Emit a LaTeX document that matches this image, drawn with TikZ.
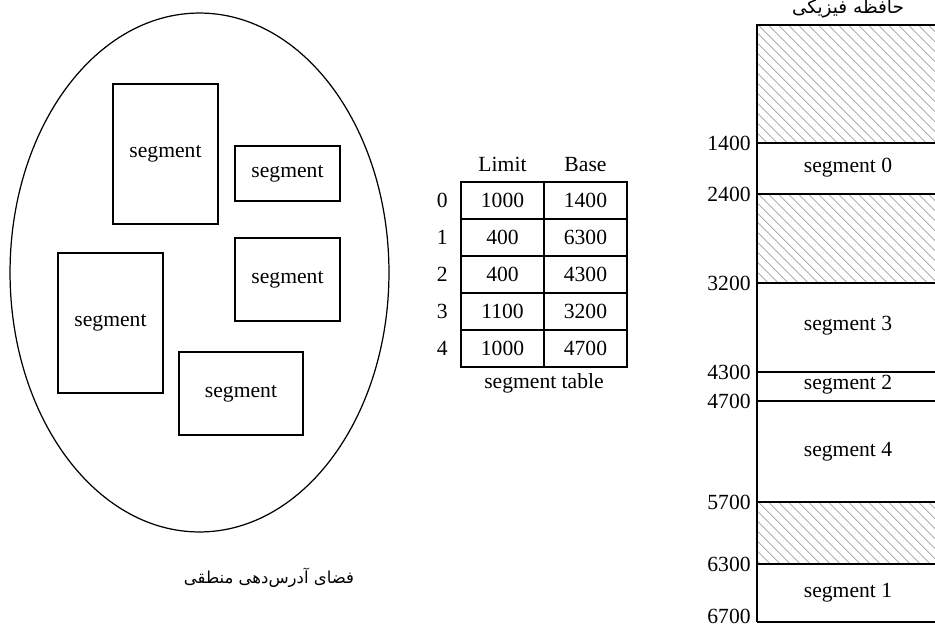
\documentclass[tikz,border=0pt]{standalone}
\usepackage{fontspec}
\setmainfont{Liberation Serif}
\newfontfamily\farsifont[Script=Arabic]{DejaVu Sans}
\TeXXeTstate=1
\usetikzlibrary{shapes.geometric,positioning,patterns.meta}

\begin{document}
\begin{tikzpicture}[
    x=0.02cm, y=-0.02cm,
    font=\fontsize{12.3}{14}\selectfont,
    segbox/.style={rectangle, draw, line width=0.9pt},
    cell/.style={rectangle, draw, line width=0.8pt, minimum width=1.66cm, minimum height=0.74cm, inner sep=0pt, outer sep=0pt},
    idx/.style={inner sep=0pt},
    free/.style={pattern={Lines[angle=-45,distance=4pt,line width=0.4pt]}, pattern color=black!45},
    boundary/.style={line width=1.2pt},
    addr/.style={anchor=east, inner sep=0pt},
    farsi/.style={font=\fontsize{10.5}{13}\farsifont}
]
\clip (0,0) rectangle (935,628);

% Logical address space
\node[draw, ellipse, line width=0.7pt, minimum width=7.58cm, minimum height=10.38cm] (space) at (199.5,272.5) {};
\node[segbox, minimum width=2.1cm, minimum height=2.8cm] (seg1) at (165.5,154) {segment};
\node[segbox, minimum width=2.1cm, minimum height=1.1cm] (seg2) at (287.5,173.5) {segment};
\node[segbox, minimum width=2.1cm, minimum height=1.66cm] (seg3) at (287.5,279.5) {segment};
\node[segbox, minimum width=2.1cm, minimum height=2.8cm] (seg4) at (110.5,323) {segment};
\node[segbox, minimum width=2.48cm, minimum height=1.66cm] (seg5) at (241,393.5) {segment};
\node[farsi, font=\fontsize{9.4}{12}\farsifont] (logspace) at (269,578) {\beginR فضای آدرس‌دهی منطقی\endR};

% Segment table
\node[cell] (lim0) at (502.5,200.5) {1000};
\node[cell, right=0pt of lim0] (base0) {1400};
\node[cell, below=0pt of lim0] (lim1) {400};
\node[cell, right=0pt of lim1] (base1) {6300};
\node[cell, below=0pt of lim1] (lim2) {400};
\node[cell, right=0pt of lim2] (base2) {4300};
\node[cell, below=0pt of lim2] (lim3) {1100};
\node[cell, right=0pt of lim3] (base3) {3200};
\node[cell, below=0pt of lim3] (lim4) {1000};
\node[cell, right=0pt of lim4] (base4) {4700};
\foreach \r in {0,...,4}
    \node[idx, left=0.26cm of lim\r] (row\r) {\r};
\node[idx, above=0.2cm of lim0] (hlimit) {Limit};
\node[idx, above=0.2cm of base0] (hbase) {Base};
\node[idx, below=0.12cm of lim4.south east] (tablecap) {segment table};

% Physical memory
\fill[free] (757,25) rectangle (940,143);
\fill[free] (757,194) rectangle (940,283);
\fill[free] (757,502) rectangle (940,564);
\draw[line width=1.4pt] (757,622) -- (757,25) -- (940,25);
\foreach \a/\y in {1400/143, 2400/194, 3200/283, 4300/372, 4700/401, 5700/502, 6300/564} {
    \draw[boundary] (757,\y) -- (940,\y);
    \node[addr] (a\a) at (751,\y) {\a};
}
\draw[boundary] (757,622) -- (940,622);
\node[addr, anchor=south east] (a6700) at (751,624) {6700};
\node (mem0) at (848,168) {segment 0};
\node (mem3) at (848,326) {segment 3};
\node (mem2) at (848,385) {segment 2};
\node (mem4) at (848,452) {segment 4};
\node (mem1) at (848,593) {segment 1};
\node[farsi] (physmem) at (848,9) {\beginR حافظه فیزیکی\endR};

\end{tikzpicture}
\end{document}
